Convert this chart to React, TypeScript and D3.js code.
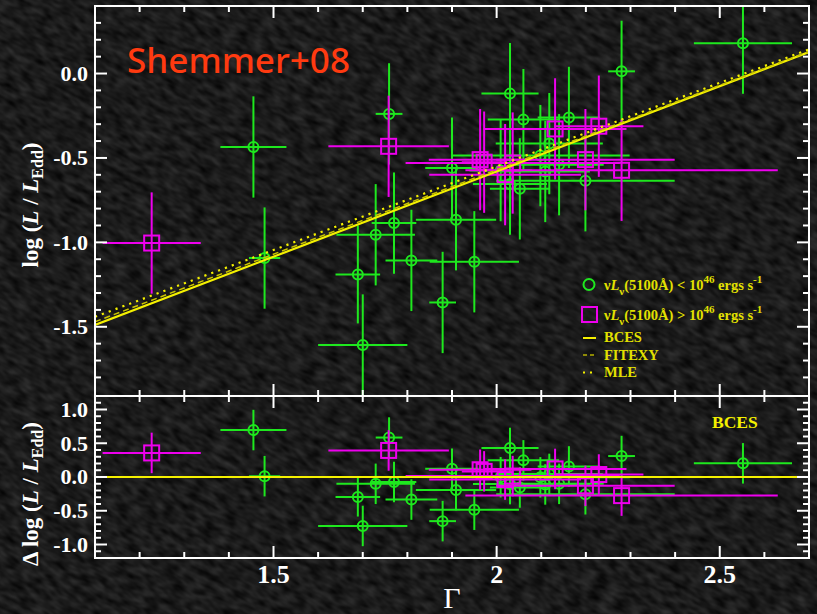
import React from 'react';
import * as d3 from 'd3';

// Photon index Γ versus log(L/L_Edd), split by optical luminosity
// Sources with νLν(5100Å) < 1e46 erg/s
const gammaLow = [1.455, 1.48, 1.689, 1.70, 1.729, 1.759, 1.770, 1.809, 1.879, 1.900, 1.909, 1.950, 2.009, 2.030, 2.030, 2.052, 2.060, 2.098, 2.109, 2.118, 2.140, 2.162, 2.199, 2.280, 2.552];
const logLLow = [-0.435, -1.093, -1.19, -1.608, -0.955, -0.239, -0.886, -1.107, -1.356, -0.56, -0.866, -1.115, -0.575, -0.119, -0.655, -0.683, -0.273, -0.486, -0.58, -0.415, -0.54, -0.26, -0.635, 0.013, 0.18];
const gammaErrLow = [0.074, 0.035, 0.05, 0.10, 0.088, 0.03, 0.05, 0.058, 0.03, 0.06, 0.09, 0.10, 0.07, 0.064, 0.083, 0.067, 0.08, 0.2, 0.1, 0.12, 0.1, 0.07, 0.2, 0.03, 0.11];
const logLErrLow = [0.30, 0.30, 0.29, 0.30, 0.30, 0.30, 0.30, 0.30, 0.30, 0.30, 0.30, 0.30, 0.30, 0.30, 0.30, 0.30, 0.30, 0.30, 0.30, 0.30, 0.30, 0.30, 0.30, 0.30, 0.30];

// Sources with νLν(5100Å) > 1e46 erg/s
const gammaHigh = [1.227, 1.758, 1.963, 1.972, 2.019, 2.036, 2.131, 2.199, 2.229, 2.280];
const logLHigh = [-1.004, -0.431, -0.51, -0.525, -0.599, -0.53, -0.328, -0.51, -0.312, -0.573];
const gammaErrHigh = [0.11, 0.135, 0.115, 0.05, 0.17, 0.24, 0.16, 0.2, 0.1, 0.35];
const logLErrHigh = [0.30, 0.30, 0.30, 0.30, 0.30, 0.30, 0.30, 0.30, 0.30, 0.30];

// Linear regressions: log(L/L_Edd) = norm + slope * (Γ - 2)
const fitNames = ['BCES', 'FITEXY', 'MLE'];
const fitSlopes = [1.01, 1.0, 0.99];
const fitNorms = [-0.58, -0.57, -0.55];

const xMajorTicks = [1.5, 2, 2.5];
const xMajorLabels = ['1.5', '2', '2.5'];
const yTopMajorTicks = [0, -0.5, -1, -1.5];
const yTopMajorLabels = ['0.0', '-0.5', '-1.0', '-1.5'];
const yBotMajorTicks = [1, 0.5, 0, -0.5, -1];
const yBotMajorLabels = ['1.0', '0.5', '0.0', '-0.5', '-1.0'];

const GREEN = '#1ee81e';
const MAGENTA = '#ee00ee';
const YELLOW = '#f4f000';
const LEGEND_YELLOW = '#e2e000';
const SERIF = '"Liberation Serif", "DejaVu Serif", serif';

type Pt = { g: number; v: number; ge: number; ve: number };

export default function App() {
  const W = 817, H = 614;
  const L = 95, R = 809, T = 6, M = 396, B = 558;

  const x = d3.scaleLinear().domain([1.1, 2.7]).range([L, R]);
  const yTop = d3.scaleLinear().domain([-1.91, 0.4]).range([M, T]);
  const yBot = d3.scaleLinear().domain([-1.2, 1.2]).range([B, M]);

  const fit = (k: number) => (g: number) => fitNorms[k] + fitSlopes[k] * (g - 2);
  const bces = fit(0);

  const low: Pt[] = gammaLow.map((g, i) => ({ g, v: logLLow[i], ge: gammaErrLow[i], ve: logLErrLow[i] }));
  const high: Pt[] = gammaHigh.map((g, i) => ({ g, v: logLHigh[i], ge: gammaErrHigh[i], ve: logLErrHigh[i] }));

  const xDomain = x.domain();
  const lineGen = d3.line<number>().x((g) => x(g));

  const fitPath = (k: number) =>
    lineGen.y((g) => yTop(fit(k)(g)))(xDomain) || '';
  const zeroPath = lineGen.y(() => yBot(0))(xDomain) || '';

  const errorBars = (pts: Pt[], y: d3.ScaleLinear<number, number>, val: (p: Pt) => number, color: string, key: string) =>
    pts.map((p, i) => (
      <g key={`${key}${i}`} stroke={color} strokeWidth={2}>
        <line x1={x(p.g - p.ge)} x2={x(p.g + p.ge)} y1={y(val(p))} y2={y(val(p))} />
        <line x1={x(p.g)} x2={x(p.g)} y1={y(val(p) - p.ve)} y2={y(val(p) + p.ve)} />
      </g>
    ));

  const circles = (pts: Pt[], y: d3.ScaleLinear<number, number>, val: (p: Pt) => number, key: string) =>
    pts.map((p, i) => (
      <circle key={`${key}${i}`} cx={x(p.g)} cy={y(val(p))} r={5} fill="none" stroke={GREEN} strokeWidth={2} />
    ));

  const squares = (pts: Pt[], y: d3.ScaleLinear<number, number>, val: (p: Pt) => number, key: string) =>
    pts.map((p, i) => (
      <rect key={`${key}${i}`} x={x(p.g) - 7.5} y={y(val(p)) - 7.5} width={15} height={15} fill="none" stroke={MAGENTA} strokeWidth={2} />
    ));

  const topVal = (p: Pt) => p.v;
  const resVal = (p: Pt) => p.v - bces(p.g);

  // tick helpers
  const xMinor = d3.range(11, 28).map((i) => i / 10).filter((t) => !xMajorTicks.some((m) => Math.abs(m - t) < 1e-6));
  const yTopMinor = d3.range(-18, 4).map((i) => i / 10).filter((t) => !yTopMajorTicks.some((m) => Math.abs(m - t) < 1e-6));
  const yBotMinor = d3.range(-11, 12).map((i) => i / 10).filter((t) => !yBotMajorTicks.some((m) => Math.abs(m - t) < 1e-6));

  const MAJ = 12, MIN = 6;

  const xTicks = (yEdge: number, dir: number, key: string) => (
    <g key={key}>
      {xMajorTicks.map((t) => (
        <line key={`M${t}`} x1={x(t)} x2={x(t)} y1={yEdge} y2={yEdge + dir * MAJ} />
      ))}
      {xMinor.map((t) => (
        <line key={`m${t}`} x1={x(t)} x2={x(t)} y1={yEdge} y2={yEdge + dir * MIN} />
      ))}
    </g>
  );

  const yTicks = (y: d3.ScaleLinear<number, number>, majors: number[], minors: number[], key: string) => (
    <g key={key}>
      {majors.map((t) => (
        <g key={`M${t}`}>
          <line x1={L} x2={L + MAJ} y1={y(t)} y2={y(t)} />
          <line x1={R} x2={R - MAJ} y1={y(t)} y2={y(t)} />
        </g>
      ))}
      {minors.map((t) => (
        <g key={`m${t}`}>
          <line x1={L} x2={L + MIN} y1={y(t)} y2={y(t)} />
          <line x1={R} x2={R - MIN} y1={y(t)} y2={y(t)} />
        </g>
      ))}
    </g>
  );

  const legendX = 604;

  return (
    <div style={{ position: 'absolute', left: 0, top: 0, width: W, height: H }}>
      <svg width={W} height={H} viewBox={`0 0 ${W} ${H}`} style={{ display: 'block' }}>
        <defs>
          <filter id="stone" x="0" y="0" width="100%" height="100%" colorInterpolationFilters="sRGB">
            <feTurbulence type="fractalNoise" baseFrequency="0.16 0.07" numOctaves={2} seed={11} result="n" />
            <feColorMatrix
              in="n"
              type="matrix"
              values="0.22 0 0 0 -0.005  0.22 0 0 0 -0.005  0.22 0 0 0 -0.005  0 0 0 0 1"
            />
          </filter>
          <clipPath id="clipTop">
            <rect x={L} y={T} width={R - L} height={M - T} />
          </clipPath>
          <clipPath id="clipBot">
            <rect x={L} y={M} width={R - L} height={B - M} />
          </clipPath>
        </defs>

        {/* textured dark backdrop */}
        <rect x={0} y={0} width={W} height={H} fill="#1a1a1a" />
        <g transform={`rotate(-62 ${W / 2} ${H / 2})`}>
          <rect x={-300} y={-300} width={W + 600} height={H + 600} filter="url(#stone)" />
        </g>

        {/* upper panel: data */}
        <g clipPath="url(#clipTop)">
          {errorBars(low, yTop, topVal, GREEN, 'elt')}
          {circles(low, yTop, topVal, 'clt')}
          {errorBars(high, yTop, topVal, MAGENTA, 'eht')}
          {squares(high, yTop, topVal, 'sht')}
          <path d={fitPath(0)} fill="none" stroke={YELLOW} strokeWidth={2.2} />
          <path d={fitPath(1)} fill="none" stroke="#c9c400" strokeWidth={1.5} strokeDasharray="6 4" />
          <path d={fitPath(2)} fill="none" stroke={YELLOW} strokeWidth={2.2} strokeDasharray="2.2 5.1" />
        </g>

        {/* lower panel: residuals about the BCES fit */}
        <g clipPath="url(#clipBot)">
          {errorBars(low, yBot, resVal, GREEN, 'elb')}
          {circles(low, yBot, resVal, 'clb')}
          {errorBars(high, yBot, resVal, MAGENTA, 'ehb')}
          {squares(high, yBot, resVal, 'shb')}
          <path d={zeroPath} fill="none" stroke={YELLOW} strokeWidth={2.2} />
        </g>

        {/* frames and ticks */}
        <g stroke="#ffffff" strokeWidth={2} fill="none">
          <rect x={L} y={T} width={R - L} height={M - T} />
          <rect x={L} y={M} width={R - L} height={B - M} />
          {xTicks(T, 1, 'xt1')}
          {xTicks(M, -1, 'xt2')}
          {xTicks(M, 1, 'xt3')}
          {xTicks(B, -1, 'xt4')}
          {yTicks(yTop, yTopMajorTicks, yTopMinor, 'yt1')}
          {yTicks(yBot, yBotMajorTicks, yBotMinor, 'yt2')}
        </g>

        {/* tick labels */}
        <g fill="#ffffff" fontFamily={SERIF} fontWeight="bold" fontSize={22} textAnchor="end">
          {yTopMajorTicks.map((t, i) => (
            <text key={`ylt${t}`} x={88} y={yTop(t)} dy="0.34em">{yTopMajorLabels[i]}</text>
          ))}
          {yBotMajorTicks.map((t, i) => (
            <text key={`ylb${t}`} x={88} y={yBot(t)} dy="0.34em">{yBotMajorLabels[i]}</text>
          ))}
        </g>
        <g fill="#ffffff" fontFamily={SERIF} fontWeight="bold" fontSize={26} textAnchor="middle">
          {xMajorTicks.map((t, i) => (
            <text key={`xl${t}`} x={x(t)} y={583}>{xMajorLabels[i]}</text>
          ))}
        </g>

        {/* axis titles */}
        <text
          transform="translate(38,205) rotate(-90)"
          textAnchor="middle"
          fill="#ffffff"
          fontFamily={SERIF}
          fontWeight="bold"
          fontSize={23}
        >
          log (<tspan fontStyle="italic">L</tspan> / <tspan fontStyle="italic">L</tspan>
          <tspan dy={5} fontSize={16}>Edd</tspan>
          <tspan dy={-5}>)</tspan>
        </text>
        <text
          transform="translate(38,494) rotate(-90)"
          textAnchor="middle"
          fill="#ffffff"
          fontFamily={SERIF}
          fontWeight="bold"
          fontSize={23}
        >
          Δ log (<tspan fontStyle="italic">L</tspan> / <tspan fontStyle="italic">L</tspan>
          <tspan dy={5} fontSize={16}>Edd</tspan>
          <tspan dy={-5}>)</tspan>
        </text>
        <text x={452} y={608} textAnchor="middle" fill="#ffffff" fontFamily={SERIF} fontSize={30}>Γ</text>

        {/* sample label */}
        <text x={127} y={73} fill="#ff3a10" fontFamily='"Comic Sans MS", "Noto Sans", sans-serif' fontWeight={500} fontSize={35} textLength={223} lengthAdjust="spacingAndGlyphs">
          Shemmer+08
        </text>

        {/* legend */}
        <g fontFamily={SERIF} fontWeight="bold" fontSize={14.5} fill={LEGEND_YELLOW}>
          <circle cx={589} cy={284.5} r={5.5} fill="none" stroke={GREEN} strokeWidth={2} />
          <text x={legendX} y={290}>
            ν<tspan fontStyle="italic">L</tspan>
            <tspan dy={5} fontSize={11}>ν</tspan>
            <tspan dy={-5}>(5100Å) &lt; 10</tspan>
            <tspan dy={-7} fontSize={11}>46</tspan>
            <tspan dy={7}> ergs s</tspan>
            <tspan dy={-7} fontSize={11}>-1</tspan>
          </text>
          <rect x={582} y={307} width={15} height={15} fill="none" stroke={MAGENTA} strokeWidth={2} />
          <text x={legendX} y={320}>
            ν<tspan fontStyle="italic">L</tspan>
            <tspan dy={5} fontSize={11}>ν</tspan>
            <tspan dy={-5}>(5100Å) &gt; 10</tspan>
            <tspan dy={-7} fontSize={11}>46</tspan>
            <tspan dy={7}> ergs s</tspan>
            <tspan dy={-7} fontSize={11}>-1</tspan>
          </text>
          <line x1={583} x2={596} y1={338} y2={338} stroke={YELLOW} strokeWidth={2} />
          <text x={legendX} y={342}>{fitNames[0]}</text>
          <line x1={583} x2={597} y1={355} y2={355} stroke="#b5b000" strokeWidth={1.5} strokeDasharray="4 3" />
          <text x={legendX} y={360}>{fitNames[1]}</text>
          <line x1={583} x2={597} y1={372.5} y2={372.5} stroke={YELLOW} strokeWidth={2} strokeDasharray="2 5" />
          <text x={legendX} y={377}>{fitNames[2]}</text>
        </g>

        <text x={712} y={428} fill={YELLOW} fontFamily={SERIF} fontWeight="bold" fontSize={17.5}>
          {fitNames[0]}
        </text>
      </svg>
    </div>
  );
}
